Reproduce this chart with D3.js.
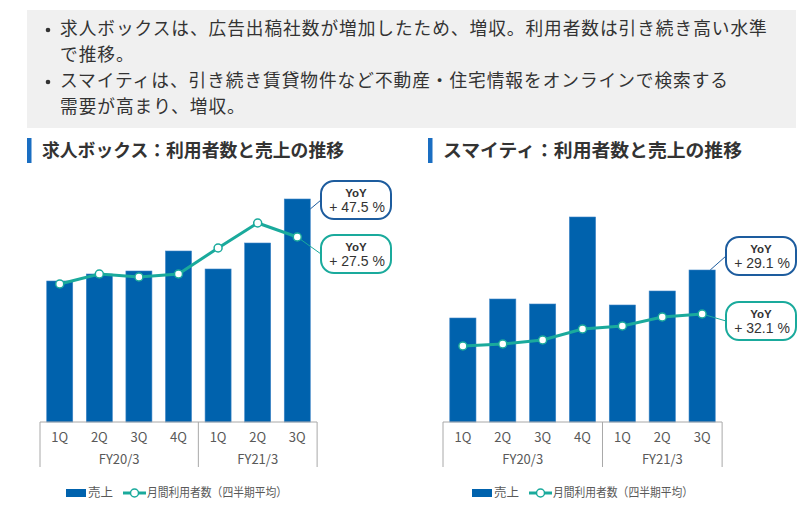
<!DOCTYPE html>
<html lang="ja">
<head>
<meta charset="utf-8">
<script src="https://cdn.jsdelivr.net/npm/d3@7/dist/d3.min.js"></script>
<style>
  html, body { margin: 0; padding: 0; background: #fff; }
  svg { display: block; font-family: "Noto Sans CJK JP", "Noto Sans", sans-serif; }
</style>
</head>
<body>
<svg id="chart" width="800" height="505"></svg>
<script>
// ---------- data ----------
const summaryLines = [
  "求人ボックスは、広告出稿社数が増加したため、増収。利用者数は引き続き高い水準",
  "で推移。",
  "スマイティは、引き続き賃貸物件など不動産・住宅情報をオンラインで検索する",
  "需要が高まり、増収。"
];
const quarters = ["1Q", "2Q", "3Q", "4Q", "1Q", "2Q", "3Q"];
const fiscalYears = ["FY20/3", "FY21/3"];
const fiscalYearQuarterCounts = [4, 3];

const jobboxTitle = "求人ボックス：利用者数と売上の推移";
const jobboxSales = [141, 148, 151, 171, 153, 179, 223];
const jobboxUsers = [138, 148, 145, 148, 174, 199, 185];
const jobboxSalesYoY = "+ 47.5 %";
const jobboxUsersYoY = "+ 27.5 %";

const smaityTitle = "スマイティ：利用者数と売上の推移";
const smaitySales = [104, 123, 118, 205, 117, 131, 152];
const smaityUsers = [76, 78, 82, 93, 96, 105, 108];
const smaitySalesYoY = "+ 29.1 %";
const smaityUsersYoY = "+ 32.1 %";

const legendSales = "売上";
const legendUsers = "月間利用者数（四半期平均）";

// ---------- styles ----------
const BAR = "#0062ad";
const TEAL = "#1aaa9c";
const DARKBOX = "#1d5c9e";
const AXIS = "#a8a8a8";
const TEXT = "#333333";
const LABEL = "#595959";
const LATIN = "'Liberation Sans', Arial, sans-serif";

const svg = d3.select("#chart");

// ---------- summary box ----------
svg.append("rect").attr("x", 27).attr("y", 10).attr("width", 769).attr("height", 118)
  .attr("fill", "#f0f0f0");
const lineYs = [29, 55, 81, 107];
const bulletLines = [0, 2];
summaryLines.forEach((t, i) => {
  svg.append("text").attr("x", 60).attr("y", lineYs[i]).attr("dy", "0.35em")
    .attr("font-size", 17.7).style("letter-spacing", "0.95px")
    .attr("fill", TEXT).text(t);
});
bulletLines.forEach(i => {
  svg.append("circle").attr("cx", 48).attr("cy", lineYs[i] + 1).attr("r", 2.3).attr("fill", TEXT);
});

// ---------- chart builder ----------
function drawChart(cfg) {
  const g = svg.append("g");
  // title
  g.append("rect").attr("x", cfg.titleX - 15).attr("y", 138).attr("width", 4.5).attr("height", 25)
    .attr("fill", "#1a6ec2");
  g.append("text").attr("x", cfg.titleX).attr("y", 151).attr("dy", "0.35em")
    .attr("font-size", 18).attr("font-weight", "bold").attr("fill", TEXT)
    .attr("textLength", cfg.titleLen).attr("lengthAdjust", "spacingAndGlyphs")
    .text(cfg.title);

  const x = d3.scaleBand().domain(d3.range(quarters.length))
    .range(cfg.xRange).paddingInner(0.343).paddingOuter(0.17);
  const y = d3.scaleLinear().domain([0, 250]).range([422, 172]);

  // bars
  g.selectAll("rect.bar").data(cfg.sales).join("rect").attr("class", "bar")
    .attr("x", (d, i) => x(i)).attr("width", x.bandwidth())
    .attr("y", d => y(d)).attr("height", d => y(0) - y(d))
    .attr("fill", BAR).attr("stroke", "#3d84c6").attr("stroke-width", 0.6);

  // axis frame
  const step = x.step();
  const x0 = cfg.xRange[0];
  g.append("line").attr("x1", cfg.xRange[0]).attr("x2", cfg.xRange[1])
    .attr("y1", y(0)).attr("y2", y(0)).attr("stroke", AXIS).attr("stroke-width", 1);
  let cum = 0;
  const seps = [x0];
  fiscalYearQuarterCounts.forEach(c => { cum += c; seps.push(x0 + step * cum); });
  seps.forEach(sx => {
    g.append("line").attr("x1", sx).attr("x2", sx).attr("y1", y(0)).attr("y2", 467)
      .attr("stroke", AXIS).attr("stroke-width", 1);
  });
  // quarter labels
  g.selectAll("text.q").data(quarters).join("text").attr("class", "q")
    .attr("x", (d, i) => x(i) + x.bandwidth() / 2).attr("y", 437).attr("dy", "0.35em")
    .attr("text-anchor", "middle").attr("font-size", 13).attr("fill", LABEL).text(d => d);
  // fiscal year labels
  fiscalYears.forEach((fy, i) => {
    g.append("text").attr("x", (seps[i] + seps[i + 1]) / 2).attr("y", 459).attr("dy", "0.35em")
      .attr("text-anchor", "middle").attr("font-size", 13).attr("fill", LABEL).text(fy);
  });

  // users line
  const line = d3.line().x((d, i) => x(i) + x.bandwidth() / 2).y(d => y(d));
  const n = cfg.users.length - 1;
  const lastPt = [x(n) + x.bandwidth() / 2, y(cfg.users[n])];

  // callouts
  const bx = cfg.xRange[1] + 4, bw = 70, bh = 38;
  const boxes = [
    { y: cfg.box1Y, color: DARKBOX, text: cfg.salesYoY,
      from: [x(n) + x.bandwidth() + cfg.lead1[0], y(cfg.sales[n]) + cfg.lead1[1]] },
    { y: cfg.box2Y, color: TEAL, text: cfg.usersYoY, from: lastPt }
  ];
  boxes.forEach(b => {
    g.append("line").attr("x1", b.from[0]).attr("y1", b.from[1])
      .attr("x2", bx).attr("y2", b.y + bh / 2)
      .attr("stroke", b.color).attr("stroke-width", 1);
  });

  g.append("path").datum(cfg.users).attr("d", line)
    .attr("fill", "none").attr("stroke", TEAL).attr("stroke-width", 3);
  g.selectAll("circle.pt").data(cfg.users).join("circle").attr("class", "pt")
    .attr("cx", (d, i) => x(i) + x.bandwidth() / 2).attr("cy", d => y(d)).attr("r", 4)
    .attr("fill", "#fff").attr("stroke", TEAL).attr("stroke-width", 1.5);

  boxes.forEach(b => {
    g.append("rect").attr("x", bx).attr("y", b.y).attr("width", bw).attr("height", bh)
      .attr("rx", 13).attr("ry", 13).attr("fill", "#fff")
      .attr("stroke", b.color).attr("stroke-width", 2);
    g.append("text").attr("x", bx + bw / 2).attr("y", b.y + 11.5).attr("dy", "0.35em")
      .attr("text-anchor", "middle").attr("font-size", 11.5).attr("font-weight", "bold")
      .style("font-family", LATIN).attr("fill", TEXT).text("YoY");
    g.append("text").attr("x", bx + bw / 2 + 1).attr("y", b.y + 26.5).attr("dy", "0.35em")
      .attr("text-anchor", "middle").attr("font-size", 14)
      .style("font-family", LATIN).attr("fill", TEXT).text(b.text);
  });

  // legend
  const lx = cfg.legendX, ly = 493;
  g.append("rect").attr("x", lx).attr("y", ly - 4).attr("width", 20).attr("height", 8).attr("fill", BAR);
  g.append("text").attr("x", lx + 22).attr("y", ly).attr("dy", "0.35em")
    .attr("font-size", 12.5).attr("fill", LABEL).text(legendSales);
  const l2 = lx + 57;
  g.append("line").attr("x1", l2).attr("x2", l2 + 23).attr("y1", ly).attr("y2", ly)
    .attr("stroke", TEAL).attr("stroke-width", 3);
  g.append("circle").attr("cx", l2 + 11.5).attr("cy", ly).attr("r", 4)
    .attr("fill", "#fff").attr("stroke", TEAL).attr("stroke-width", 1.5);
  g.append("text").attr("x", l2 + 24).attr("y", ly).attr("dy", "0.35em")
    .attr("font-size", 12).attr("fill", LABEL)
    .attr("textLength", 140).attr("lengthAdjust", "spacingAndGlyphs").text(legendUsers);
}

drawChart({
  title: jobboxTitle, titleX: 42, titleLen: 302,
  xRange: [40, 317], sales: jobboxSales, users: jobboxUsers,
  salesYoY: jobboxSalesYoY, usersYoY: jobboxUsersYoY,
  box1Y: 181, box2Y: 235, lead1: [0, 10], legendX: 66
});
drawChart({
  title: smaityTitle, titleX: 443, titleLen: 299,
  xRange: [443, 722], sales: smaitySales, users: smaityUsers,
  salesYoY: smaitySalesYoY, usersYoY: smaityUsersYoY,
  box1Y: 237, box2Y: 302, lead1: [-5, 0], legendX: 472
});
</script>
</body>
</html>
